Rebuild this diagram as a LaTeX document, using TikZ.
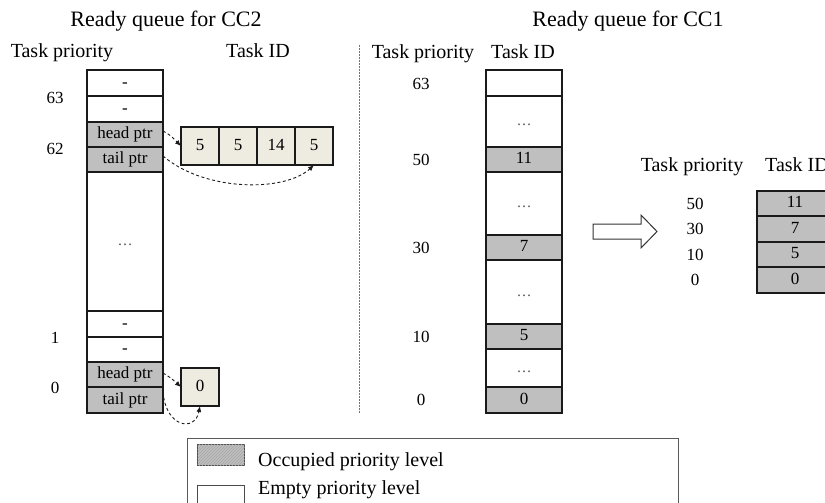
\documentclass[tikz,border=0pt]{standalone}
\usepackage{fontspec}
\setmainfont{Liberation Serif}
\usetikzlibrary{arrows.meta,patterns}

\definecolor{occgray}{HTML}{BFBFBF}
\definecolor{idbeige}{HTML}{EEECE1}
\definecolor{edge}{HTML}{1A1A1A}

\tikzset{
  cellbox/.style={draw=edge, line width=1.2pt, minimum width=76pt, inner sep=0pt,
    outer sep=0pt, text height=12pt, text depth=3.5pt, font=\fontsize{17}{20}\selectfont},
  occ/.style={cellbox, fill=occgray},
  idbox/.style={draw=edge, line width=1.1pt, fill=idbeige, minimum width=38pt,
    minimum height=38pt, inner sep=0pt, outer sep=0pt, text height=12pt,
    text depth=3.5pt, font=\fontsize{17}{20}\selectfont},
  lbl/.style={inner sep=0pt, font=\fontsize{17}{20}\selectfont},
  hdr/.style={inner sep=0pt, anchor=base, font=\fontsize{20}{24}\selectfont},
  ttl/.style={inner sep=0pt, anchor=base, font=\fontsize{22}{26}\selectfont},
  legtext/.style={inner sep=0pt, anchor=base west, font=\fontsize{20}{24}\selectfont},
  ptr/.style={dash pattern=on 3pt off 2.5pt, line width=0.9pt, draw=edge,
    -{Latex[length=6pt,width=5pt]}},
  divider/.style={draw=black!55, line width=1pt, dash pattern=on 2pt off 1pt},
  dotsfont/.style={font=\fontsize{15}{18}\selectfont, text=black!70},
}

\begin{document}
\begin{tikzpicture}[x=1pt,y=-1pt]
\useasboundingbox (0,0) rectangle (825,503);
\clip (0,0) rectangle (825,503);

% ---------- ready queue for CC2 ----------
\node[ttl] (t2) at (166,27) {Ready queue for CC2};
\node[hdr] (h2p) at (62,58) {Task priority};
\node[hdr] (h2i) at (258,58) {Task ID};

\node[cellbox, minimum height=26pt] (a1) at (125,83) {-};
\node[cellbox, minimum height=26pt] (a2) at (125,109) {-};
\node[occ, minimum height=25pt] (a3) at (125,134.5) {head ptr};
\node[occ, minimum height=25pt] (a4) at (125,159.5) {tail ptr};
\node[cellbox, minimum height=139pt, dotsfont] (a5) at (125,241.5) {\dots};
\node[cellbox, minimum height=26pt] (a6) at (125,324) {-};
\node[cellbox, minimum height=25pt] (a7) at (125,349.5) {-};
\node[occ, minimum height=25pt] (a8) at (125,374.5) {head ptr};
\node[occ, minimum height=26pt] (a9) at (125,400) {tail ptr};

\node[lbl] (l63) at (55,98) {63};
\node[lbl] (l62) at (55,149) {62};
\node[lbl] (l1) at (55,338) {1};
\node[lbl] (l0) at (55,388) {0};

% task list of priority 62
\node[idbox] (t1) at (200,146) {5};
\node[idbox] (tt2) at (238,146) {5};
\node[idbox] (tt3) at (276,146) {14};
\node[idbox] (tt4) at (314,146) {5};

% task list of priority 0
\node[idbox] (z0) at (200,387) {0};

\coordinate (h62) at (163,131);
\coordinate (s62) at (163,156);
\coordinate (h0) at (163,373);
\coordinate (s0) at (163,392);
\draw[ptr] (h62) .. controls (170,135) .. (t1.west);
\draw[ptr] (s62) .. controls (205,192) and (285,192) .. (tt4.south);
\draw[ptr] (h0) .. controls (171,378) .. (z0.west);
\draw[ptr] (s0) .. controls (166,428) and (195,432) .. (z0.south);

% separator
\coordinate (divtop) at (359,45);
\coordinate (divbot) at (359,413);
\draw[divider] (divtop) -- (divbot);

% ---------- ready queue for CC1 ----------
\node[ttl] (t1h) at (628,27) {Ready queue for CC1};
\node[hdr] (h1p) at (423,59) {Task priority};
\node[hdr] (h1i) at (523,59) {Task ID};

\node[cellbox, minimum height=26pt] (b1) at (524,83) {};
\node[cellbox, minimum height=51pt, dotsfont] (b2) at (524,121.5) {\dots};
\node[occ, minimum height=25pt] (b3) at (524,159.5) {11};
\node[cellbox, minimum height=63pt, dotsfont] (b4) at (524,203.5) {\dots};
\node[occ, minimum height=25pt] (b5) at (524,247.5) {7};
\node[cellbox, minimum height=64pt, dotsfont] (b6) at (524,292) {\dots};
\node[occ, minimum height=25pt] (b7) at (524,336.5) {5};
\node[cellbox, minimum height=38pt, dotsfont] (b8) at (524,368) {\dots};
\node[occ, minimum height=26pt] (b9) at (524,400) {0};

\node[lbl] (r63) at (421,84) {63};
\node[lbl] (r50) at (421,160) {50};
\node[lbl] (r30) at (421,248) {30};
\node[lbl] (r10) at (421,337) {10};
\node[lbl] (r0) at (421,400) {0};

% conversion arrow
\draw[draw=black!80, line width=1pt, fill=white]
  (593,224) -- (641,224) -- (641,215) -- (657,231.5) -- (641,248) -- (641,239)
  -- (593,239) -- cycle;

% compact sorted list
\node[hdr] (sp) at (692,171) {Task priority};
\node[hdr, anchor=base west] (si) at (765,171) {Task ID};
\node[occ, minimum height=25pt] (c1) at (795,203.5) {11};
\node[occ, minimum height=26pt] (c2) at (795,229) {7};
\node[occ, minimum height=25pt] (c3) at (795,254.5) {5};
\node[occ, minimum height=26pt] (c4) at (795,280) {0};
\node[lbl] (s50) at (695,204) {50};
\node[lbl] (s30) at (695,229) {30};
\node[lbl] (s10) at (695,255) {10};
\node[lbl] (s0) at (695,280) {0};

% ---------- legend ----------
\node[draw=black!65, line width=1pt, anchor=north west, minimum width=491pt,
  minimum height=75pt, inner sep=0pt] (legend) at (187,438) {};
\node[draw=black!70, line width=1pt, anchor=north west, minimum width=47pt,
  minimum height=21pt, inner sep=0pt, fill=occgray,
  postaction={pattern=north east lines, pattern color=black!35}] (swocc) at (197,444) {};
\node[draw=black!70, line width=1pt, anchor=north west, minimum width=47pt,
  minimum height=21pt, inner sep=0pt, fill=white] (swemp) at (197,485) {};
\node[legtext] (tocc) at (258,466) {Occupied priority level};
\node[legtext] (temp) at (258,494) {Empty priority level};
\end{tikzpicture}
\end{document}
